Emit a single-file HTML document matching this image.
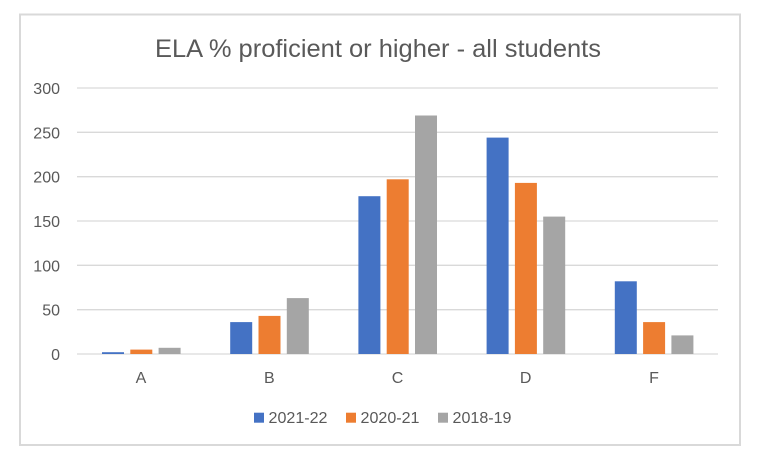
<!DOCTYPE html>
<html><head><meta charset="utf-8"><style>
html,body{margin:0;padding:0;background:#fff;}
svg{display:block;}
text{font-family:"Liberation Sans",sans-serif;fill:#595959;}
</style></head><body>
<svg width="760" height="458" viewBox="0 0 760 458" xmlns="http://www.w3.org/2000/svg">
<rect x="0" y="0" width="760" height="458" fill="#fff"/>
<rect x="20" y="14.5" width="720" height="430.5" fill="none" stroke="#d9d9d9" stroke-width="2"/>
<text x="378" y="57" font-size="25" text-anchor="middle" textLength="446" lengthAdjust="spacingAndGlyphs">ELA % proficient or higher - all students</text>
<g stroke="#d9d9d9" stroke-width="1.3">
<line x1="77" x2="718" y1="88" y2="88"/>
<line x1="77" x2="718" y1="132.3" y2="132.3"/>
<line x1="77" x2="718" y1="176.7" y2="176.7"/>
<line x1="77" x2="718" y1="221" y2="221"/>
<line x1="77" x2="718" y1="265.3" y2="265.3"/>
<line x1="77" x2="718" y1="309.7" y2="309.7"/>
<line x1="77" x2="718" y1="354" y2="354"/>
</g>
<g font-size="16" text-anchor="end">
<text x="60" y="94">300</text>
<text x="60" y="138.3">250</text>
<text x="60" y="182.7">200</text>
<text x="60" y="227">150</text>
<text x="60" y="271.3">100</text>
<text x="60" y="315.7">50</text>
<text x="60" y="360">0</text>
</g>
<!-- bars: y = 354 - v*0.8867 -->
<g fill="#4472C4">
<rect x="102" y="352.2" width="22" height="1.8"/>
<rect x="230.2" y="322.1" width="22" height="31.9"/>
<rect x="358.4" y="196.2" width="22" height="157.8"/>
<rect x="486.6" y="137.6" width="22" height="216.4"/>
<rect x="614.8" y="281.3" width="22" height="72.7"/>
</g>
<g fill="#ED7D31">
<rect x="130.3" y="349.6" width="22" height="4.4"/>
<rect x="258.5" y="315.9" width="22" height="38.1"/>
<rect x="386.7" y="179.3" width="22" height="174.7"/>
<rect x="514.9" y="182.9" width="22" height="171.1"/>
<rect x="643.1" y="322.1" width="22" height="31.9"/>
</g>
<g fill="#A5A5A5">
<rect x="158.6" y="347.8" width="22" height="6.2"/>
<rect x="286.8" y="298.1" width="22" height="55.9"/>
<rect x="415" y="115.5" width="22" height="238.5"/>
<rect x="543.2" y="216.6" width="22" height="137.4"/>
<rect x="671.4" y="335.4" width="22" height="18.6"/>
</g>
<g font-size="16" text-anchor="middle">
<text x="141" y="383">A</text>
<text x="269.3" y="383">B</text>
<text x="397.5" y="383">C</text>
<text x="525.7" y="383">D</text>
<text x="654" y="383">F</text>
</g>
<rect x="254" y="412.7" width="10" height="10" fill="#4472C4"/>
<text x="268.5" y="423" font-size="16" textLength="59" lengthAdjust="spacingAndGlyphs">2021-22</text>
<rect x="346" y="412.7" width="10" height="10" fill="#ED7D31"/>
<text x="360.5" y="423" font-size="16" textLength="59" lengthAdjust="spacingAndGlyphs">2020-21</text>
<rect x="438" y="412.7" width="10" height="10" fill="#A5A5A5"/>
<text x="452.5" y="423" font-size="16" textLength="59" lengthAdjust="spacingAndGlyphs">2018-19</text>
</svg>
</body></html>
